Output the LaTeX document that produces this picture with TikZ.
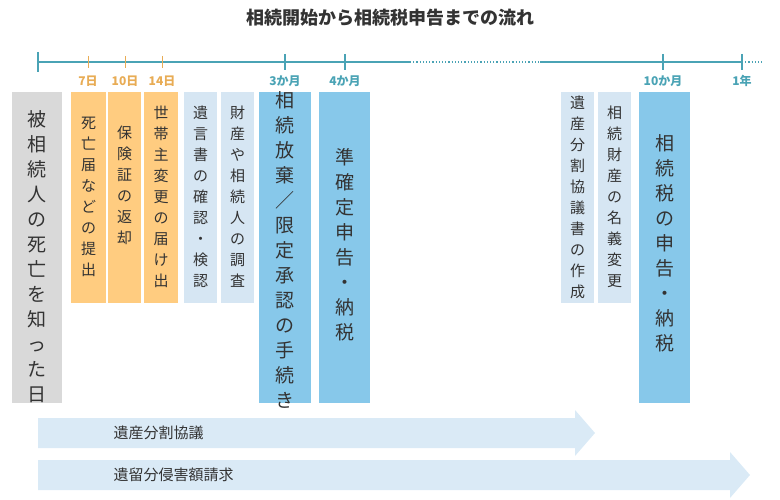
\documentclass[tikz,border=0pt]{standalone}
\usepackage{fontspec}
\setmainfont{Noto Sans CJK JP}
\usetikzlibrary{shapes.arrows}
\definecolor{gr}{HTML}{D9D9D9}
\definecolor{og}{HTML}{FFCC80}
\definecolor{lb}{HTML}{D6E6F3}
\definecolor{mb}{HTML}{87C8EA}
\definecolor{tl}{HTML}{4AA3B5}
\definecolor{ot}{HTML}{E8AC55}
\definecolor{ar}{HTML}{DAEAF6}
\definecolor{tx}{HTML}{333333}
\begin{document}
\begin{tikzpicture}[x=1pt,y=-1pt,
 bx/.style={fill=#1,draw=none,inner sep=0},
 sm/.style={font=\fontsize{15}{21}\selectfont,align=center,text=tx},
 bg/.style={font=\fontsize{19}{25}\selectfont,align=center,text=tx},
 tk/.style={font=\fontsize{12}{14}\selectfont\bfseries}]
\useasboundingbox (0,0) rectangle (780,500);
\node[font=\fontsize{18}{20}\selectfont\bfseries,text=tx] (title) at (390,18) {相続開始から相続税申告までの流れ};
% timeline
\coordinate (t0) at (38,62); \coordinate (t1) at (410,62);
\coordinate (t2) at (540,62); \coordinate (t3) at (742,62); \coordinate (t4) at (762,62);
\draw[tl,line width=1.2pt] (t0)--(t1) (t2)--(t3);
\draw[tl,line width=1.2pt,dotted] (t1)--(t2) (t3)--(t4);
\draw[tl,line width=1.5pt] (38,52)--(38,72);
\foreach \x/\l in {88/7日,125/10日,162/14日}{
 \draw[ot,line width=0.6pt] (\x,56)--(\x,68);
 \node[tk,text=ot] at (\x,81) {\l};}
\foreach \x/\l in {285/3か月,345/4か月,663/10か月,742/1年}{
 \draw[tl,line width=1.2pt] (\x,54)--(\x,70);
 \node[tk,text=tl] at (\x,81) {\l};}
% boxes
\fill[gr] (12,92) rectangle (62,403);
\node[bg] (a) at (37,257) {被\\相\\続\\人\\の\\死\\亡\\を\\知\\っ\\た\\日};
\fill[og] (71,92) rectangle (106,303);
\node[sm] (b) at (88.5,197) {死\\亡\\届\\な\\ど\\の\\提\\出};
\fill[og] (108,92) rectangle (141,303);
\node[sm] (c) at (124.5,185) {保\\険\\証\\の\\返\\却};
\fill[og] (144,92) rectangle (178,303);
\node[sm] (d) at (161,197) {世\\帯\\主\\変\\更\\の\\届\\け\\出};
\fill[lb] (184,92) rectangle (217,303);
\node[sm] (e) at (200.5,197) {遺\\言\\書\\の\\確\\認\\・\\検\\認};
\fill[lb] (221,92) rectangle (254,303);
\node[sm] (f) at (237.5,197) {財\\産\\や\\相\\続\\人\\の\\調\\査};
\fill[mb] (259,92) rectangle (311,403);
\node[bg] (g) at (285,250) {相\\続\\放\\棄\\／\\限\\定\\承\\認\\の\\手\\続\\き};
\fill[mb] (319,92) rectangle (370,403);
\node[bg] (h) at (344.5,245) {準\\確\\定\\申\\告\\・\\納\\税};
\fill[lb] (561,92) rectangle (594,303);
\node[sm] (i) at (577.5,197) {遺\\産\\分\\割\\協\\議\\書\\の\\作\\成};
\fill[lb] (598,92) rectangle (631,303);
\node[sm] (j) at (614.5,197) {相\\続\\財\\産\\の\\名\\義\\変\\更};
\fill[mb] (639,92) rectangle (690,403);
\node[bg] (k) at (664.5,243) {相\\続\\税\\の\\申\\告\\・\\納\\税};
% arrows
\fill[ar] (38,418) -- (575,418) -- (575,410) -- (595,433) -- (575,456) -- (575,448) -- (38,448) -- cycle;
\node[sm,anchor=west] (l) at (110,433) {遺産分割協議};
\fill[ar] (38,460) -- (730,460) -- (730,452) -- (750,475) -- (730,498) -- (730,490) -- (38,490) -- cycle;
\node[sm,anchor=west] (m) at (110,475) {遺留分侵害額請求};
\end{tikzpicture}
\end{document}
